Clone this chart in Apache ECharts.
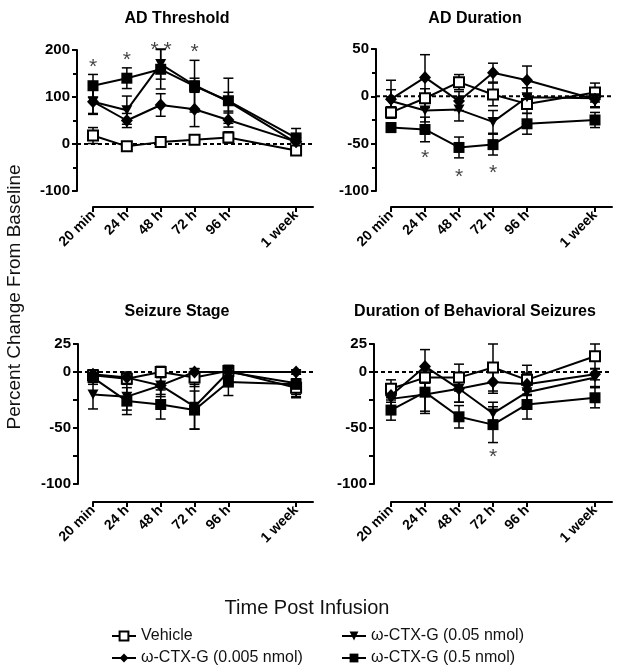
<!DOCTYPE html>
<html>
<head>
<meta charset="utf-8">
<script src="https://cdn.jsdelivr.net/npm/echarts@6/dist/echarts.min.js"></script>
<style>html,body{margin:0;padding:0;background:#fff;}#c{width:618px;height:672px;}</style>
</head>
<body>
<div id="c"></div>
<script>
// ---------- DATA ----------
const timeLabels = ['20 min', '24 h', '48 h', '72 h', '96 h', '1 week'];
const timePos = [0, 1, 2, 3, 4, 6];
const seriesNames = ['Vehicle', 'ω-CTX-G (0.005 nmol)', 'ω-CTX-G (0.05 nmol)', 'ω-CTX-G (0.5 nmol)'];
const panelTitles = ['AD Threshold', 'AD Duration', 'Seizure Stage', 'Duration of Behavioral Seizures'];

// AD Threshold
const thrVehicle = [18, -5, 4, 9, 14, -14];
const thrVehicleErr = [17, 5, 6, 6, 12, 6];
const thrLow = [90, 50, 83, 74, 51, 5];
const thrLowErr = [27, 15, 24, 37, 15, 12];
const thrMid = [90, 72, 170, 125, 90, 3];
const thrMidErr = [25, 30, 32, 15, 20, 15];
const thrHigh = [124, 140, 159, 123, 92, 13];
const thrHighErr = [24, 22, 42, 55, 48, 20];

// AD Duration
const durVehicle = [-17, -2, 15, 2, -8, 4];
const durVehicleErr = [6, 10, 8, 12, 10, 10];
const durLow = [-3, 20, -5, 25, 17, -3];
const durLowErr = [20, 24, 10, 10, 15, 8];
const durMid = [-5, -15, -14, -27, -1, -2];
const durMidErr = [12, 12, 12, 12, 10, 10];
const durHigh = [-33, -35, -54, -51, -29, -25];
const durHighErr = [5, 13, 11, 11, 11, 8];

// Seizure Stage
const stgVehicle = [-3, -6, 0, -5, 1, -14];
const stgVehicleErr = [5, 5, 5, 8, 5, 8];
const stgLow = [-2, -5, -12, 0, 0, 0];
const stgLowErr = [4, 5, 8, 3, 3, 2];
const stgMid = [-20, -22, -12, -31, 0, -10];
const stgMidErr = [13, 12, 10, 20, 5, 10];
const stgHigh = [-5, -26, -29, -34, -9, -11];
const stgHighErr = [6, 12, 13, 17, 12, 12];

// Duration of Behavioral Seizures
const behVehicle = [-15, -5, -5, 4, -7, 14];
const behVehicleErr = [8, 10, 12, 21, 13, 11];
const behLow = [-21, 5, -15, -9, -11, -2];
const behLowErr = [6, 15, 12, 10, 10, 5];
const behMid = [-24, -20, -15, -37, -18, -5];
const behMidErr = [8, 15, 12, 10, 10, 8];
const behHigh = [-34, -18, -40, -47, -29, -23];
const behHighErr = [9, 19, 10, 16, 13, 9];

// significance asterisks [x position, y value]
const thrStars = [[0, 174], [1, 189], [1.82, 211], [2.2, 211], [3, 206]];
const durStars = [[1, -60], [2, -80], [3, -76]];
const stgStars = [];
const behStars = [[3, -72]];

// y-axis ranges
const yMins = [-100, -100, -100, -100];
const yMaxs = [200, 50, 25, 25];
const yIntervals = [100, 50, 25, 25];
const yLabelValues = [[-100, 0, 100, 200], [-100, -50, 0, 50], [-100, -50, 0, 25], [-100, -50, 0, 25]];

// ---------- BUILD ----------
const FONT = "'Liberation Sans', Arial, Helvetica, sans-serif";
const panels = [
  { means: [thrVehicle, thrLow, thrMid, thrHigh], errs: [thrVehicleErr, thrLowErr, thrMidErr, thrHighErr], stars: thrStars },
  { means: [durVehicle, durLow, durMid, durHigh], errs: [durVehicleErr, durLowErr, durMidErr, durHighErr], stars: durStars },
  { means: [stgVehicle, stgLow, stgMid, stgHigh], errs: [stgVehicleErr, stgLowErr, stgMidErr, stgHighErr], stars: stgStars },
  { means: [behVehicle, behLow, behMid, behHigh], errs: [behVehicleErr, behLowErr, behMidErr, behHighErr], stars: behStars }
];
const gridBoxes = [
  { left: 93, top: 50, width: 220, height: 141, yOff: 16, xOff: 16 },
  { left: 391, top: 49, width: 221, height: 142, yOff: 15, xOff: 16 },
  { left: 93, top: 344, width: 220, height: 140, yOff: 15, xOff: 18 },
  { left: 391, top: 344, width: 221, height: 140, yOff: 17, xOff: 18 }
];
const titlePos = [[177, 19], [475, 19], [177, 312], [475, 312]];
const symbols = [
  { symbol: 'rect', size: 10, fill: '#fff', rotate: 0 },
  { symbol: 'diamond', size: [12, 13], fill: '#000', rotate: 0 },
  { symbol: 'triangle', size: [11, 10], fill: '#000', rotate: 180 },
  { symbol: 'rect', size: 11, fill: '#000', rotate: 0 }
];
const XMAX = 6.5;

const grids = [], xAxes = [], yAxes = [], series = [];
gridBoxes.forEach((g, i) => {
  grids.push({ left: g.left, top: g.top, width: g.width, height: g.height, containLabel: false, outerBoundsMode: 'none' });
  xAxes.push({
    type: 'value', gridIndex: i, min: 0, max: XMAX, offset: g.xOff,
    splitLine: { show: false },
    axisLine: { show: true, onZero: false, lineStyle: { color: '#000', width: 2 } },
    axisTick: { show: true, length: 5, lineStyle: { color: '#000', width: 2 }, customValues: timePos },
    axisLabel: {
      customValues: timePos, rotate: 45, margin: 6, color: '#000',
      fontFamily: FONT, fontWeight: 'bold', fontSize: 14,
      formatter: v => { const k = timePos.indexOf(v); return k >= 0 ? timeLabels[k] : ''; }
    }
  });
  yAxes.push({
    type: 'value', gridIndex: i, min: yMins[i], max: yMaxs[i], interval: yIntervals[i], offset: g.yOff,
    splitLine: { show: false },
    axisLine: { show: true, onZero: false, lineStyle: { color: '#000', width: 2 } },
    axisTick: { show: true, length: 5, lineStyle: { color: '#000', width: 2 } },
    minorTick: { show: i < 2, splitNumber: 2, length: 4, lineStyle: { color: '#000', width: 2 } },
    axisLabel: {
      color: '#000', fontFamily: FONT, fontWeight: 'bold', fontSize: 15, margin: 7,
      formatter: v => yLabelValues[i].indexOf(v) >= 0 ? String(v) : ''
    }
  });
  const p = panels[i];
  // error bars
  p.means.forEach((m, s) => {
    series.push({
      type: 'custom', xAxisIndex: i, yAxisIndex: i, z: 2, silent: true,
      data: m.map((v, k) => [timePos[k], v, p.errs[s][k]]),
      encode: { x: 0, y: 1 },
      renderItem: (params, api) => {
        const x = api.value(0), mv = api.value(1), e = api.value(2);
        const t = api.coord([x, mv + e]), b = api.coord([x, mv - e]);
        const hw = 5, st = { stroke: '#000', lineWidth: 1.5 };
        return { type: 'group', children: [
          { type: 'line', shape: { x1: t[0], y1: t[1], x2: b[0], y2: b[1] }, style: st },
          { type: 'line', shape: { x1: t[0] - hw, y1: t[1], x2: t[0] + hw, y2: t[1] }, style: st },
          { type: 'line', shape: { x1: b[0] - hw, y1: b[1], x2: b[0] + hw, y2: b[1] }, style: st }
        ]};
      }
    });
  });
  // lines
  p.means.forEach((m, s) => {
    const sy = symbols[s];
    series.push({
      type: 'line', name: seriesNames[s], xAxisIndex: i, yAxisIndex: i, z: 3 + s,
      data: m.map((v, k) => [timePos[k], v]),
      symbol: sy.symbol, symbolSize: sy.size, symbolRotate: sy.rotate, showAllSymbol: true,
      clip: false,
      lineStyle: { color: '#000', width: 2 },
      itemStyle: { color: sy.fill, borderColor: '#000', borderWidth: s === 0 ? 2 : 0 },
      emphasis: { disabled: true }, animation: false
    });
  });
  // asterisks
  series.push({
    type: 'scatter', xAxisIndex: i, yAxisIndex: i, z: 10, clip: false, silent: true,
    data: p.stars, symbolSize: 0,
    label: { show: true, position: 'inside', formatter: '*', color: '#111', fontFamily: FONT, fontSize: 21, offset: [0, 5] }
  });
});

const graphics = [];
panelTitles.forEach((t, i) => {
  graphics.push({ type: 'text', x: titlePos[i][0], y: titlePos[i][1], style: {
    text: t, font: "bold 16px " + FONT, fill: '#000', textAlign: 'center', textVerticalAlign: 'middle' } });
});
graphics.push({ type: 'text', x: 15, y: 297, rotation: Math.PI / 2, style: {
  text: 'Percent Change From Baseline', font: "19px " + FONT, fill: '#111', textAlign: 'center', textVerticalAlign: 'middle' } });
graphics.push({ type: 'text', x: 307, y: 608, style: {
  text: 'Time Post Infusion', font: "20px " + FONT, fill: '#111', textAlign: 'center', textVerticalAlign: 'middle' } });

const option = {
  backgroundColor: '#fff',
  animation: false,
  grid: grids, xAxis: xAxes, yAxis: yAxes, series: series,
  legend: [
    { data: [seriesNames[0], seriesNames[1]], orient: 'vertical', left: 106, top: 623, itemGap: 6,
      itemWidth: 24, itemHeight: 11, selectedMode: false,
      textStyle: { fontFamily: FONT, fontSize: 16, color: '#111' } },
    { data: [seriesNames[2], seriesNames[3]], orient: 'vertical', left: 336, top: 623, itemGap: 6,
      itemWidth: 24, itemHeight: 11, selectedMode: false,
      textStyle: { fontFamily: FONT, fontSize: 16, color: '#111' } }
  ],
  graphic: graphics
};
const chart = echarts.init(document.getElementById('c'), null, { renderer: 'canvas' });
chart.setOption(option);

// dotted zero lines from y-axis to end of x-axis, placed through the library's scales
const zeroLines = [];
gridBoxes.forEach((g, i) => {
  const a = chart.convertToPixel({ gridIndex: i }, [0, 0]);
  const b = chart.convertToPixel({ gridIndex: i }, [XMAX, 0]);
  zeroLines.push({ type: 'line', z: 1, silent: true,
    shape: { x1: a[0] - g.yOff, y1: a[1], x2: b[0], y2: b[1] },
    style: { stroke: '#000', lineWidth: 2, lineDash: [4, 3] } });
});
chart.setOption({ graphic: graphics.concat(zeroLines) });
</script>
</body>
</html>
